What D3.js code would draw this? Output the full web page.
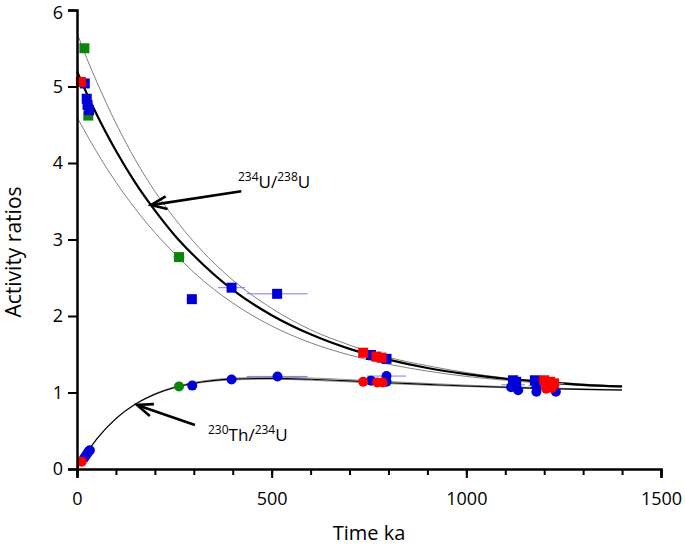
<!DOCTYPE html>
<html><head><meta charset="utf-8">
<script src="https://cdn.jsdelivr.net/npm/d3@7"></script>
<style>body{margin:0;background:#fff}svg{display:block}text{font-family:"Open Sans",sans-serif;fill:#000}</style>
</head><body><svg id="c" width="685" height="545"></svg>
<script>
// ---- data ----
const curveT = [0,25,50,100,150,200,250,300,400,500,600,700,800,900,1000,1100,1200,1300,1400];
const uUpper   = [5.70,5.37,5.07,4.52,4.04,3.63,3.28,2.97,2.47,2.10,1.82,1.62,1.46,1.35,1.26,1.19,1.145,1.11,1.08];
const uCentral = [5.20,4.91,4.64,4.16,3.74,3.38,3.06,2.79,2.34,2.01,1.76,1.57,1.43,1.32,1.24,1.18,1.14,1.10,1.08];
const uLower   = [4.60,4.37,4.15,3.75,3.40,3.09,2.82,2.57,2.17,1.87,1.65,1.49,1.37,1.28,1.21,1.16,1.12,1.09,1.07];
const thUpper   = [0,0.21,0.390,0.664,0.853,0.984,1.073,1.131,1.188,1.200,1.190,1.168,1.143,1.119,1.096,1.077,1.060,1.047,1.037];
const thCentral = [0,0.21,0.387,0.659,0.848,0.978,1.065,1.121,1.175,1.185,1.173,1.152,1.128,1.106,1.085,1.068,1.053,1.041,1.032];
const thLower   = [0,0.21,0.385,0.655,0.843,0.973,1.058,1.113,1.165,1.174,1.160,1.139,1.116,1.095,1.078,1.062,1.048,1.037,1.029];

const sqGreen = [[19,5.50],[29,4.62],[262,2.77]];
const sqBlue  = [[20,5.04],[25,4.84],[27,4.76],[31,4.69],[295,2.22],[397,2.37],[514,2.29],[755,1.49],[795,1.44],[1120,1.16],[1128,1.14],[1176,1.16],[1180,1.12]];
const sqRed   = [[10,5.06],[735,1.52],[769,1.47],[782,1.455],[1200,1.16],[1215,1.14],[1225,1.12]];
const ciGreen = [[262,1.08]];
const ciBlue  = [[18,0.14],[22,0.17],[26,0.20],[30,0.23],[33,0.245],[296,1.09],[397,1.17],[515,1.21],[755,1.155],[795,1.215],[795,1.14],[1115,1.07],[1133,1.03],[1180,1.01],[1230,1.01]];
const ciRed   = [[12,0.096],[735,1.14],[771,1.13],[785,1.13],[1205,1.05],[1220,1.06]];
const errGreen = [[262,2.77,15]];
const errBlue  = [[295,2.22,14],[397,2.37,35],[514,2.29,78],[514,1.21,78],[795,1.215,50],[1120,1.10,30],[1200,1.09,40]];
const errRed   = [[1210,1.12,40]];

const xTicksMajor = [0,500,1000,1500];
const xTicksMinor = [0,100,200,300,400,500,600,700,800,900,1000,1100,1200,1300,1400,1500];
const yTicks = [0,1,2,3,4,5,6];
const xTitle = "Time ka", yTitle = "Activity ratios";
// annotation anchors in data units: [tailT, tailV, headT, headV]
const uArrow = [422, 3.63, 190, 3.45];
const thArrow = [303, 0.575, 154, 0.837];

// ---- drawing ----
const svg = d3.select("#c");
const x = d3.scaleLinear().domain([0,1500]).range([77,661]);
const y = d3.scaleLinear().domain([0,6]).range([469,10]);

const line = d3.line().x(d=>x(d[0])).y(d=>y(d[1])).curve(d3.curveMonotoneX);
function drawCurve(vals, w, col){
  svg.append("path").datum(curveT.map((t,i)=>[t,vals[i]]))
    .attr("d", line).attr("fill","none").attr("stroke",col).attr("stroke-width",w);
}
drawCurve(thUpper,0.9,"#808080");
drawCurve(thLower,0.9,"#808080");
drawCurve(thCentral,1.1,"#000");
drawCurve(uUpper,0.9,"#707070");
drawCurve(uLower,0.9,"#707070");
drawCurve(uCentral,2.2,"#000");

// error bars
function errs(arr,col){
  svg.append("g").selectAll("line").data(arr).join("line")
    .attr("x1",d=>x(d[0]-d[2])).attr("x2",d=>x(d[0]+d[2]))
    .attr("y1",d=>y(d[1])).attr("y2",d=>y(d[1]))
    .attr("stroke",col).attr("stroke-width",1);
}
errs(errGreen,"#5fae5f"); errs(errBlue,"#7a7af0"); errs(errRed,"#f08a8a");

const S = 10;
function squares(arr,col){
  svg.append("g").selectAll("rect").data(arr).join("rect")
    .attr("x",d=>x(d[0])-S/2).attr("y",d=>y(d[1])-S/2).attr("width",S).attr("height",S).attr("fill",col);
}
function circles(arr,col){
  svg.append("g").selectAll("circle").data(arr).join("circle")
    .attr("cx",d=>x(d[0])).attr("cy",d=>y(d[1])).attr("r",S/2).attr("fill",col);
}
const GREEN="#0a870a", BLUE="#0000d6", RED="#ff0000";
squares(sqGreen,GREEN); circles(ciGreen,GREEN);
squares(sqBlue,BLUE); circles(ciBlue,BLUE);
squares(sqRed,RED); circles(ciRed,RED);

// axes
const xAxisMinor = d3.axisBottom(x).tickValues(xTicksMinor).tickSize(6).tickFormat("");
const xAxisMajor = d3.axisBottom(x).tickValues(xTicksMajor).tickSize(9).tickPadding(14).tickFormat(d3.format("d"));
const yAxis = d3.axisLeft(y).tickValues(yTicks).tickSize(9).tickPadding(5).tickFormat(d3.format("d"));
function style(g){
  g.select(".domain").attr("stroke","#000").attr("stroke-width",2.5);
  g.selectAll(".tick line").attr("stroke","#000").attr("stroke-width",2);
  g.selectAll("text").attr("font-size",18).attr("font-family","'Open Sans',sans-serif").attr("fill","#000");
}
svg.append("g").attr("transform","translate(0,469)").call(xAxisMinor).call(style).call(g=>g.select(".domain").remove());
svg.append("g").attr("transform","translate(0,469)").call(xAxisMajor).call(style);
svg.append("g").attr("transform","translate(77,0)").call(yAxis).call(style)
  .call(g=>g.selectAll(".tick text").filter(d=>d===6).attr("dy","0.45em"));

svg.append("text").attr("x",369).attr("y",540).attr("text-anchor","middle").attr("font-size",20).text(xTitle);
svg.append("text").attr("transform","translate(21,252) rotate(-90)").attr("text-anchor","middle").attr("font-size",21).text(yTitle);

// arrows
function arrow(a){
  const x1=x(a[0]), y1=y(a[1]), x2=x(a[2]), y2=y(a[3]);
  const ang=Math.atan2(y1-y2,x1-x2), L=17, sp=0.38;
  svg.append("line").attr("x1",x1).attr("y1",y1).attr("x2",x2+3*Math.cos(ang)).attr("y2",y2+3*Math.sin(ang))
    .attr("stroke","#000").attr("stroke-width",2.6);
  const p = d3.path();
  p.moveTo(x2+L*Math.cos(ang+sp), y2+L*Math.sin(ang+sp));
  p.lineTo(x2,y2);
  p.lineTo(x2+L*Math.cos(ang-sp), y2+L*Math.sin(ang-sp));
  svg.append("path").attr("d",p.toString()).attr("fill","none").attr("stroke","#000").attr("stroke-width",2.6).attr("stroke-linejoin","miter");
}
arrow(uArrow); arrow(thArrow);

// labels: superscript, main alternate
function label(px,py,segs){
  const t = svg.append("text").attr("x",px).attr("y",py);
  let up=false;
  segs.forEach(([s,sup])=>{
    const dy = sup ? (up?0:-7) : (up?7:0);
    up = sup;
    t.append("tspan").attr("font-size",sup?12:17).attr("dy",dy).text(s);
  });
}
label(238,188,[["234",true],["U/",false],["238",true],["U",false]]);
label(208,441,[["230",true],["Th/",false],["234",true],["U",false]]);
</script></body></html>
